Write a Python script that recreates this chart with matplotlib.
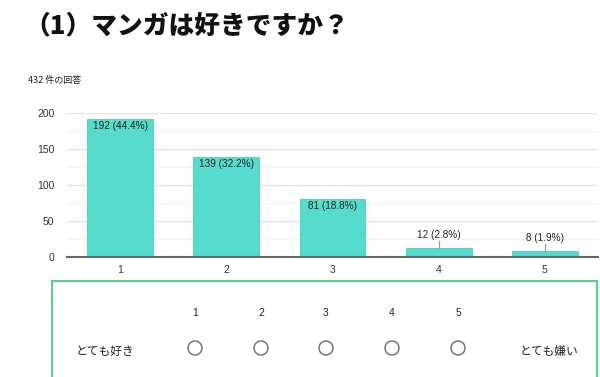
import matplotlib
matplotlib.use("Agg")
import matplotlib.pyplot as plt
from matplotlib.patches import Circle, Rectangle

plt.rcParams['font.family'] = ['Liberation Sans', 'Noto Sans CJK JP', 'DejaVu Sans']
CJK = ['Noto Sans CJK JP', 'DejaVu Sans']

title = "（1）マンガは好きですか？"
subtitle = "432 件の回答"
total = 432
categories = ["1", "2", "3", "4", "5"]
counts = [192, 139, 81, 12, 8]
scale_left = "とても好き"
scale_right = "とても嫌い"

W, H = 600, 377
fig = plt.figure(figsize=(W / 100, H / 100), dpi=100)

def fx(px):
    return px / W

def fy(py):
    return 1 - py / H

# Title and subtitle
fig.text(fx(24), fy(25), title, fontsize=18.5, fontweight='heavy', va='center', ha='left',
         color='#111111', family=CJK)
fig.text(fx(28), fy(80), subtitle, fontsize=6.5, va='center', ha='left', color='#222222', family=CJK)

# Bar chart
ax = fig.add_axes([fx(67), fy(257), fx(598) - fx(67), fy(113) - fy(257)])
x = list(range(len(categories)))
bar_color = '#56dccd'
ax.bar(x, counts, width=0.62, color=bar_color, edgecolor='#45cfbf', linewidth=0.6, zorder=3)
ax.set_xlim(-0.5, len(categories) - 0.5)
ax.set_ylim(0, 200)
ax.set_yticks([0, 50, 100, 150, 200])
ax.set_yticks([25, 75, 125, 175], minor=True)
ax.set_xticks(x)
ax.set_xticklabels(categories)
ax.tick_params(axis='both', which='both', length=0, labelsize=7.5, colors='#333333')
ax.tick_params(axis='x', pad=6)
ax.tick_params(axis='y', pad=9)
ax.grid(axis='y', which='major', color='#e4e4e4', linewidth=1.0, zorder=0)
ax.grid(axis='y', which='minor', color='#f2f2f2', linewidth=0.8, zorder=0)
for s in ['top', 'right', 'left']:
    ax.spines[s].set_visible(False)
ax.spines['bottom'].set_color('#666666')
ax.spines['bottom'].set_linewidth(1.5)
ax.spines['bottom'].set_zorder(4)

for xi, c in zip(x, counts):
    label = f"{c} ({c / total * 100:.1f}%)"
    if c > 40:
        ax.text(xi, c - 3, label, ha='center', va='top', fontsize=7.2, color='#222222', zorder=5)
    else:
        ax.plot([xi, xi], [c, c + 10], color='#999999', linewidth=0.9, zorder=5)
        ax.text(xi, c + 11, label, ha='center', va='bottom', fontsize=7.2, color='#222222', zorder=5)

# Overlay for the scale box
ov = fig.add_axes([0, 0, 1, 1])
ov.set_xlim(0, W)
ov.set_ylim(H, 0)
ov.axis('off')
ov.add_patch(Rectangle((52, 281), 545, 97, fill=False, edgecolor='#2ecc71', linewidth=1.2))
num_x = [195, 261, 326, 392, 458]
for lab, px in zip(categories, num_x):
    ov.text(px, 313, lab, ha='center', va='center', fontsize=7.5, color='#222222')
    ov.add_patch(Circle((px, 348), 7, fill=False, edgecolor='#777777', linewidth=1.1))
ov.text(105, 351, scale_left, ha='center', va='center', fontsize=8.5, color='#222222', family=CJK)
ov.text(549, 351, scale_right, ha='center', va='center', fontsize=8.5, color='#222222', family=CJK)

fig.savefig("out.png", dpi=100)
